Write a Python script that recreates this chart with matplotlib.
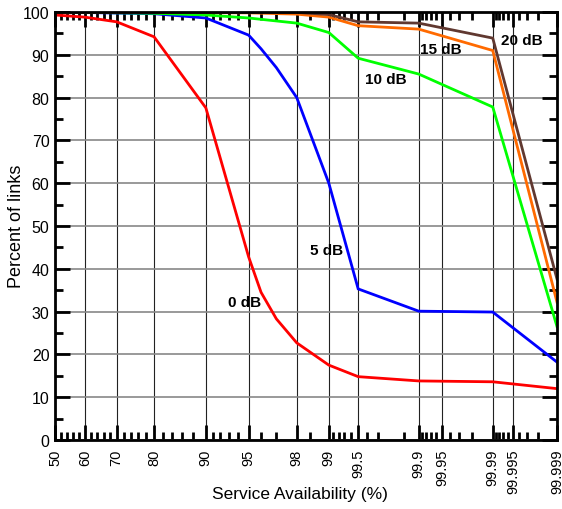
import numpy as np
import matplotlib
matplotlib.use("Agg")
import matplotlib.pyplot as plt
from matplotlib.ticker import FixedLocator, NullFormatter
from statistics import NormalDist

plt.rcParams['font.family'] = ['Liberation Sans', 'DejaVu Sans']

# ---- data ----
x_major = [50, 60, 70, 80, 90, 95, 98, 99, 99.5, 99.9, 99.95, 99.99, 99.995, 99.999]
x_major_labels = ["50", "60", "70", "80", "90", "95", "98", "99", "99.5", "99.9",
                  "99.95", "99.99", "99.995", "99.999"]
x_minor = [52, 54, 56, 58, 62, 64, 66, 68, 72, 74, 76, 78, 82, 84, 86, 88,
           91, 92, 93, 94, 96, 97, 98.5, 99.1, 99.2, 99.3, 99.4, 99.6, 99.7, 99.85,
           99.91, 99.92, 99.93, 99.94, 99.96, 99.97, 99.98,
           99.991, 99.992, 99.993, 99.994, 99.996, 99.997, 99.998]

x_0db = [50, 60, 70, 80, 90, 95, 96, 97, 98, 99, 99.5, 99.9, 99.99, 99.999]
y_0db = [99.3, 98.8, 97.7, 94.2, 77.6, 42.8, 34.5, 28.3, 22.7, 17.5, 14.8, 13.8, 13.6, 12.0]

x_5db = [50, 80, 90, 95, 96, 97, 98, 99, 99.5, 99.9, 99.99, 99.999]
y_5db = [100, 99.6, 98.6, 94.6, 91.4, 87.0, 80.0, 60.0, 35.3, 30.1, 29.9, 18.2]

x_10db = [50, 80, 90, 95, 98, 99, 99.5, 99.9, 99.99, 99.999]
y_10db = [100, 99.7, 99.3, 98.6, 97.4, 95.2, 89.2, 85.5, 77.8, 26.5]

x_15db = [50, 95, 98, 99, 99.5, 99.9, 99.99, 99.999]
y_15db = [100, 99.8, 99.5, 98.8, 96.8, 96.0, 91.0, 32.2]

x_20db = [50, 98, 99, 99.5, 99.9, 99.99, 99.999]
y_20db = [100, 99.9, 99.4, 97.7, 97.4, 93.9, 37.6]

series = [
    (x_0db, y_0db, "#ff0000"),
    (x_5db, y_5db, "#0000ff"),
    (x_10db, y_10db, "#00ff00"),
    (x_15db, y_15db, "#ff6a00"),
    (x_20db, y_20db, "#603830"),
]

labels = [("0 dB", 94.6, 32.2), ("5 dB", 98.95, 44.4), ("10 dB", 99.75, 84.3),
          ("15 dB", 99.947, 91.4), ("20 dB", 99.9964, 93.5)]

# ---- normal probability scale ----
ND = NormalDist()
_ppf = np.vectorize(ND.inv_cdf, otypes=[float])
_cdf = np.vectorize(ND.cdf, otypes=[float])


def fwd(p):
    p = np.clip(np.asarray(p, dtype=float), 1e-7, 100 - 1e-7)
    return _ppf(p / 100.0)


def inv(z):
    z = np.asarray(z, dtype=float)
    return _cdf(z) * 100.0


fig = plt.figure(figsize=(5.62, 5.10), dpi=100)
ax = fig.add_axes([55 / 562, 1 - 441 / 510, (557 - 55) / 562, (441 - 13) / 510])
ax.set_xscale('function', functions=(fwd, inv))
ax.set_xlim(50, 99.999)
ax.set_ylim(0, 100)

ax.xaxis.set_major_locator(FixedLocator(x_major))
ax.xaxis.set_minor_locator(FixedLocator(x_minor))
ax.set_xticklabels(x_major_labels, rotation=90, va='top')
ax.xaxis.set_minor_formatter(NullFormatter())
ax.set_yticks(np.arange(0, 101, 10))
ax.set_yticks(np.arange(5, 100, 10), minor=True)

ax.grid(axis='x', which='major', color='#222222', linewidth=0.8)
ax.grid(axis='y', which='major', color='#888888', linewidth=1.2)
ax.set_axisbelow(True)

for xs, ys, c in series:
    ax.plot(xs, ys, color=c, linewidth=2.0, solid_joinstyle='miter', zorder=3)

for txt, xv, yv in labels:
    ax.text(xv, yv, txt, fontsize=11, fontweight='bold', ha='center', va='center', zorder=4)

for s in ax.spines.values():
    s.set_linewidth(2.0)
    s.set_zorder(5)

ax.tick_params(which='both', direction='in', top=True, right=True, width=2.0)
ax.tick_params(which='major', length=11)
ax.tick_params(which='minor', length=6)
ax.tick_params(axis='x', pad=6, labelsize=10.5)
ax.tick_params(axis='y', pad=4, labelsize=11.5)

ax.set_xlabel("Service Availability (%)", fontsize=12.5)
ax.set_ylabel("Percent of links", fontsize=13)
ax.xaxis.set_label_coords(0.488, -0.108)
ax.yaxis.set_label_coords(-0.06, 0.502)

fig.savefig("out.png", dpi=100)
